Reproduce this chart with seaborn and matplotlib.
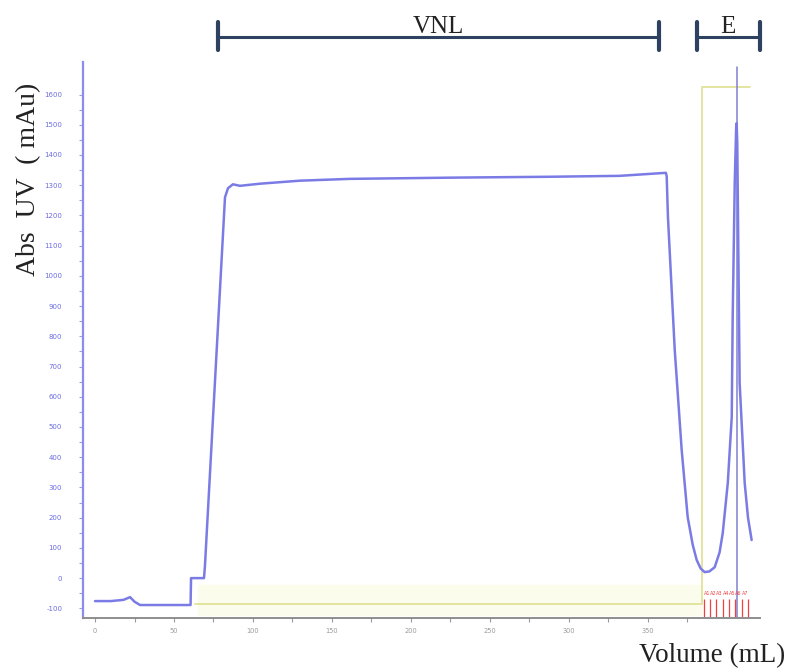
import pandas as pd
import seaborn as sns
import matplotlib.pyplot as plt

# UV trace (volume in mL, absorbance in mAU)
volume = [0, 10, 18, 22.2, 25, 28.5, 45, 60.5, 60.8, 69.0, 69.6, 82.3, 84.2,
          87.3, 91.8, 104.4, 129.7, 161.4, 224.7, 288, 332.3, 361.5, 362.0,
          362.8, 367.1, 371.5, 375.3, 378.5, 381, 383.5, 386, 389, 392.4,
          395.5, 397.5, 400.7, 403.2, 403.8, 405.1, 406.0, 406.3, 406.7, 408.2,
          411.4, 413.5, 415.8]
absorbance = [-76, -76, -72, -63, -78, -89, -89, -89, 0, 0, 40, 1260, 1290,
              1303, 1298, 1305, 1315, 1321, 1325, 1328, 1331, 1341, 1330,
              1195, 755, 424, 202, 110, 60, 32, 20, 22, 36,
              85, 149, 315, 533, 864, 1308, 1490, 1505, 1440, 646,
              315, 200, 126]

# gradient / %B trace drawn in the same units
grad_volume = [63, 384.5, 384.5, 415]
grad_value = [-86, -86, 1626, 1626]

# fraction marks
fraction_edges = [385.5, 389.5, 393.5, 397.5, 401.5, 405.5, 409.5, 413.5]

y_ticks = list(range(-100, 1700, 100))
x_ticks = list(range(0, 400, 50))

brackets = [("VNL", 77.8, 357.0), ("E", 381.0, 420.9)]

sns.set_style("white")
plt.rcParams["font.family"] = ["Liberation Serif", "DejaVu Serif"]

fig = plt.figure(figsize=(7.87, 6.70), dpi=100)
ax = fig.add_axes([0.1055, 0.0776, 0.860, 0.830])

df = pd.DataFrame({"volume": volume, "abs": absorbance})
sns.lineplot(data=df, x="volume", y="abs", color="#7b7be6", linewidth=1.8,
             sort=False, ax=ax)

ax.fill_between([65, 384.5], -122, -23, color="#fcfcec", zorder=0)
ax.plot(grad_volume, grad_value, color="#e2e29a", linewidth=1.3, zorder=1)
ax.axvline(406.3, ymin=0.0, ymax=0.99, color="#8080d0", linewidth=1.1, zorder=1)
ax.vlines(fraction_edges, -130, -70, color="#f04040", linewidth=0.9)
for i, fx in enumerate(fraction_edges[:-1]):
    ax.text(fx + 2, -50, f"A{i + 1}", color="#f04040", fontsize=3.5,
            ha="center", va="center", family="DejaVu Sans")

ax.set_xlim(-7.6, 421)
ax.set_ylim(-132, 1708)
ax.set_xticks(x_ticks)
ax.set_xticks([t + 25 for t in x_ticks], minor=True)
ax.set_yticks(y_ticks)
ax.set_yticks([t + 50 for t in y_ticks[:-1]], minor=True)
ax.set_xticklabels([str(t) for t in x_ticks], fontsize=4.8, color="#9a9a9a",
                   family="DejaVu Sans")
ax.set_yticklabels([str(t) for t in y_ticks], fontsize=5, color="#6c6ce0",
                   family="DejaVu Sans")
ax.tick_params(axis="x", which="both", direction="out", length=3, width=0.8,
               colors="#9a9a9a", pad=4, bottom=True)
ax.tick_params(axis="y", which="both", direction="out", length=3, width=0.8,
               colors="#9a9aee", pad=12, left=True)
for lbl in ax.get_yticklabels():
    lbl.set_color("#6c6ce0")

for side in ("top", "right"):
    ax.spines[side].set_visible(False)
ax.spines["left"].set_color("#8c8cf0")
ax.spines["left"].set_linewidth(1.6)
ax.spines["bottom"].set_color("#8e8e8e")
ax.spines["bottom"].set_linewidth(1.4)

ax.set_xlabel("")
ax.set_ylabel("")
fig.text(0.998, 0.022, "Volume (mL)", ha="right", va="center", fontsize=19.5,
         color="#222222")
fig.text(0.036, 0.733, "Abs  UV  ( mAu)", ha="center", va="center", fontsize=20,
         rotation=90, color="#222222")

# region brackets above the plot
navy = "#2d4160"
for name, x0, x1 in brackets:
    ax.plot([x0, x1], [1.045, 1.045], color=navy, linewidth=2.2,
            transform=ax.get_xaxis_transform(), clip_on=False)
    for xe in (x0, x1):
        ax.plot([xe, xe], [1.021, 1.072], color=navy, linewidth=3.0,
                transform=ax.get_xaxis_transform(), clip_on=False)
    ax.text((x0 + x1) / 2, 1.063, name, ha="center", va="center", fontsize=18,
            color="#222222", transform=ax.get_xaxis_transform())

fig.savefig("out.png", dpi=100)
